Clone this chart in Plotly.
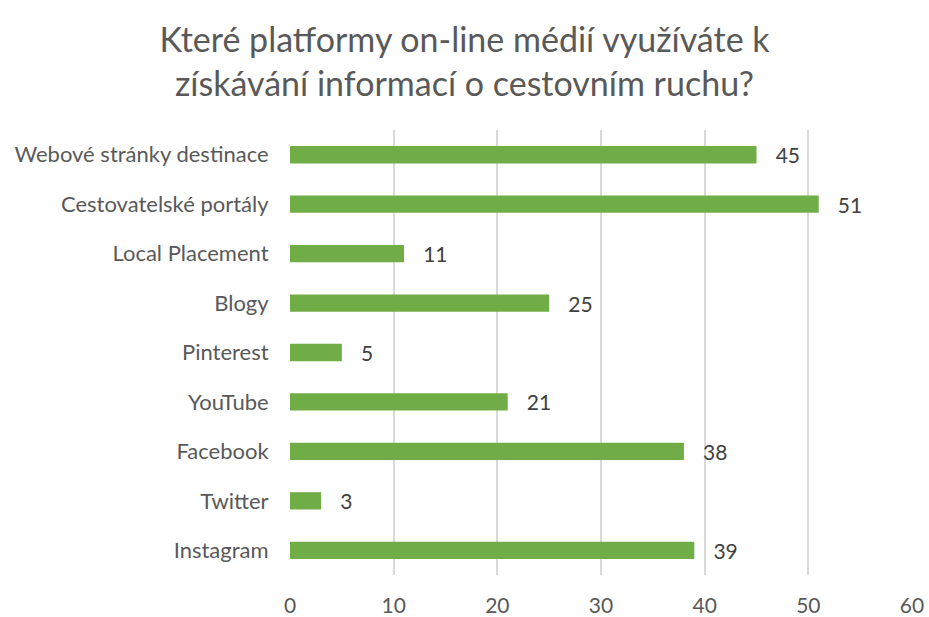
import plotly.graph_objects as go

categories = ["Webové stránky destinace", "Cestovatelské portály", "Local Placement",
              "Blogy", "Pinterest", "YouTube", "Facebook", "Twitter", "Instagram"]
values = [45, 51, 11, 25, 5, 21, 38, 3, 39]
x_ticks = [0, 10, 20, 30, 40, 50, 60]

title_text = "Které platformy on-line médií využíváte k<br>získávání informací o cestovním ruchu?"

FONT = "Lato, Carlito, Calibri, sans-serif"

fig = go.Figure(go.Bar(
    y=categories,
    x=values,
    orientation="h",
    marker=dict(color="#70AD47", line=dict(width=0)),
    width=0.35,
    text=values,
    texttemplate="   %{x}",
    textposition="outside",
    constraintext="none",
    textfont=dict(size=21, color="#404040", family=FONT),
    cliponaxis=False,
))

fig.update_layout(
    width=929, height=617,
    margin=dict(l=290, r=17, t=130, b=42, autoexpand=False),
    paper_bgcolor="white", plot_bgcolor="white",
    title=dict(text=title_text, x=0.5, xanchor="center", y=0.916, yanchor="top",
               font=dict(size=34, color="#595959", family=FONT)),
    showlegend=False,
    xaxis=dict(range=[0, 60], tickvals=x_ticks, showgrid=True, gridcolor="#D9D9D9",
               gridwidth=1.5, zeroline=False, showline=False, automargin=False,
               ticks="outside", ticklen=12, tickcolor="rgba(0,0,0,0)",
               tickfont=dict(size=21, color="#595959", family=FONT)),
    yaxis=dict(autorange="reversed", showgrid=False, zeroline=False, showline=False,
               automargin=False,
               ticks="outside", ticklen=16, tickcolor="rgba(0,0,0,0)",
               tickfont=dict(size=22, color="#595959", family=FONT)),
)

fig.write_html("out.html")
